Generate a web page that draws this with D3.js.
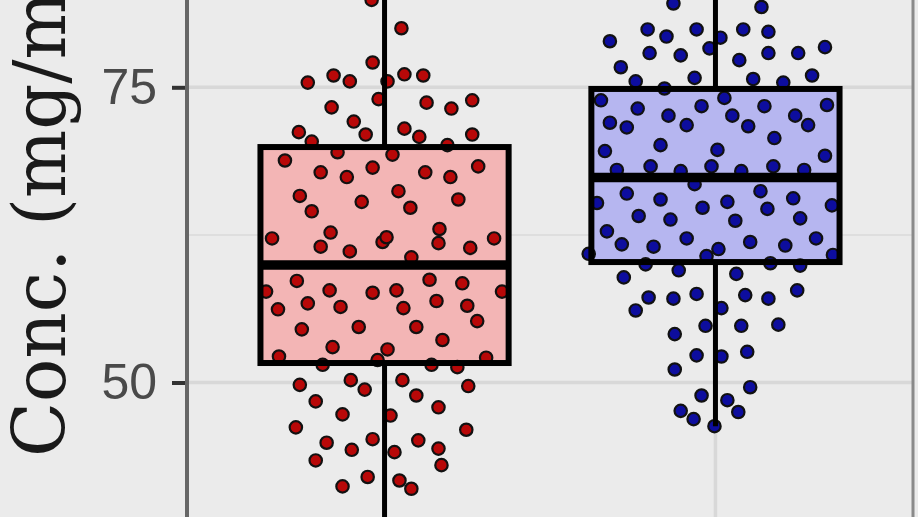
<!DOCTYPE html>
<html><head><meta charset="utf-8">
<script src="https://cdn.jsdelivr.net/npm/d3@7"></script>
<style>html,body{margin:0;padding:0;background:#ebebeb;overflow:hidden}</style>
</head><body>
<svg id="c" width="918" height="517"></svg>
<script>
const categories = ["A", "B"];
const yTicks = [50, 75];
const yMinorTicks = [37.5, 62.5, 87.5];
const boxLower = [51.65, 60.2];
const boxMedian = [59.95, 67.36];
const boxUpper = [69.94, 74.86];
const whiskerLow = [37.0, 46.3];
const whiskerHigh = [85.0, 85.0];
const yLabel = "Conc. (mg/m³)";

const redValues = [82.4,80.0,77.1,75.4,76.0,75.5,75.5,76.1,76.0,73.3,74.0,72.1,73.7,73.2,73.9,71.2,70.4,71.0,71.5,70.8,71.0,69.5,70.1,68.8,69.3,67.8,67.4,68.2,67.8,67.4,68.3,65.8,64.5,65.3,66.2,64.8,65.5,62.2,62.7,61.5,61.9,62.3,63.0,61.8,61.4,62.2,61.1,60.6,58.6,57.8,57.6,57.8,58.7,58.4,57.7,57.7,56.2,56.7,56.4,56.3,56.9,56.5,55.2,54.5,54.7,54.7,53.0,52.8,53.6,52.2,52.1,51.5,51.9,51.5,51.3,49.8,50.2,49.4,50.2,48.9,49.7,48.4,47.9,47.3,47.2,46.2,46.0,44.9,45.2,45.1,44.4,44.3,44.1,43.4,43.0,42.0,41.7,41.0,41.2];
const redJitter = [-0.039,0.051,-0.036,-0.232,-0.154,-0.105,0.009,0.060,0.117,-0.160,-0.018,-0.093,0.127,0.202,0.265,-0.259,-0.220,-0.057,0.060,0.105,0.265,-0.142,0.190,-0.301,0.024,-0.193,-0.114,-0.036,0.123,0.199,0.283,-0.256,-0.220,-0.069,0.042,0.078,0.223,-0.340,-0.163,-0.193,-0.006,0.006,0.166,0.163,0.259,0.331,-0.105,0.081,-0.265,-0.166,-0.036,0.036,0.136,0.235,-0.358,0.355,-0.322,-0.232,-0.133,0.057,0.157,0.250,0.280,-0.250,-0.078,0.096,-0.157,0.009,0.175,-0.319,0.307,-0.187,-0.021,0.142,0.220,-0.256,-0.102,-0.060,0.054,0.096,0.253,-0.208,0.163,-0.127,0.018,-0.268,0.247,-0.175,-0.036,0.102,0.163,-0.099,0.030,-0.208,0.172,-0.051,0.045,0.081,-0.127];
const blueValues = [82.1,81.8,78.9,79.9,79.3,79.9,79.2,78.3,79.9,79.7,77.9,77.7,77.3,77.9,77.9,78.4,76.7,75.5,75.8,75.7,75.4,76.0,74.9,73.9,73.2,72.6,73.4,74.1,73.4,73.5,72.0,71.6,71.8,72.6,71.7,72.6,71.8,69.6,70.1,69.7,70.7,69.2,68.0,68.3,67.9,68.3,67.9,68.3,68.0,66.8,66.0,65.5,64.8,65.3,66.2,65.6,65.2,65.0,64.1,63.8,63.7,64.7,63.9,62.8,61.7,61.5,62.2,61.3,61.9,61.6,62.2,60.9,60.0,59.5,59.2,59.9,60.1,60.7,58.9,57.2,57.1,57.5,57.4,57.1,57.8,56.1,56.3,54.8,54.8,54.9,54.1,52.3,52.2,52.6,51.1,49.6,48.9,48.5,47.6,46.9,47.5,46.3,60.8];
const blueJitter = [-0.127,0.139,-0.319,-0.205,-0.148,-0.057,0.015,-0.018,0.084,0.160,-0.199,-0.105,0.072,0.160,0.250,0.331,-0.286,-0.241,-0.063,0.114,0.205,0.292,-0.154,-0.346,-0.235,-0.142,-0.042,0.027,0.148,0.337,-0.319,-0.268,-0.087,0.051,0.099,0.241,0.280,-0.334,-0.166,0.006,0.178,0.331,-0.298,-0.196,-0.105,-0.012,0.078,0.175,0.268,-0.063,-0.268,-0.166,-0.039,0.036,0.136,0.235,-0.358,0.352,-0.232,-0.136,0.060,0.157,0.256,-0.328,-0.283,-0.187,-0.087,0.009,0.105,0.211,0.304,-0.383,-0.211,-0.111,0.063,0.256,0.166,-0.027,-0.277,-0.202,-0.127,-0.057,0.090,0.160,0.247,-0.241,0.018,-0.030,0.078,0.190,-0.123,-0.057,0.018,0.096,-0.123,0.105,-0.042,0.036,-0.105,-0.066,0.069,-0.003,0.355];

const boxFills = ["#f3b5b5", "#b6b6f0"];
const pointFills = ["#b80808", "#0d0d9e"];

const svg = d3.select("#c");
const W = 918, H = 517;
const x = d3.scalePoint().domain(categories).range([186, 914]).padding(0.6);
const y = d3.scaleLinear().domain([50, 75]).range([382.5, 87.3]);
const step = x.step();

svg.append("rect").attr("x", 0).attr("y", 0).attr("width", W).attr("height", H).attr("fill", "#ebebeb");

const grid = svg.append("g");
grid.selectAll("line.minor").data(yMinorTicks).join("line")
  .attr("x1", 187).attr("x2", 912).attr("y1", d => y(d)).attr("y2", d => y(d))
  .attr("stroke", "#dedede").attr("stroke-width", 2);
grid.selectAll("line.major").data(yTicks).join("line")
  .attr("x1", 187).attr("x2", 912).attr("y1", d => y(d)).attr("y2", d => y(d))
  .attr("stroke", "#d8d8d8").attr("stroke-width", 3.5);
grid.selectAll("line.vert").data(categories).join("line")
  .attr("x1", d => x(d)).attr("x2", d => x(d)).attr("y1", 0).attr("y2", H)
  .attr("stroke", "#d8d8d8").attr("stroke-width", 3.5);

const bw = step * 0.75;
const boxes = categories.map((c, i) => ({c, i, lo: boxLower[i], med: boxMedian[i], hi: boxUpper[i], wl: whiskerLow[i], wh: whiskerHigh[i]}));

svg.append("g").selectAll("rect").data(boxes).join("rect")
  .attr("x", d => x(d.c) - bw / 2).attr("width", bw)
  .attr("y", d => y(d.hi)).attr("height", d => y(d.lo) - y(d.hi))
  .attr("fill", d => boxFills[d.i]);

const pts = [];
redValues.forEach((v, k) => pts.push({c: categories[0], i: 0, v, j: redJitter[k]}));
blueValues.forEach((v, k) => pts.push({c: categories[1], i: 1, v, j: blueJitter[k]}));
svg.append("g").selectAll("circle").data(pts).join("circle")
  .attr("cx", d => x(d.c) + d.j * step).attr("cy", d => y(d.v)).attr("r", 6.2)
  .attr("fill", d => pointFills[d.i]).attr("stroke", "#111").attr("stroke-width", 2.2);

const bl = svg.append("g");
bl.selectAll("line.wh").data(boxes).join("line")
  .attr("x1", d => x(d.c)).attr("x2", d => x(d.c)).attr("y1", d => y(d.wh)).attr("y2", d => y(d.hi))
  .attr("stroke", "#000").attr("stroke-width", 5);
bl.selectAll("line.wl").data(boxes).join("line")
  .attr("x1", d => x(d.c)).attr("x2", d => x(d.c)).attr("y1", d => y(d.lo)).attr("y2", d => y(d.wl))
  .attr("stroke", "#000").attr("stroke-width", 5);
bl.selectAll("rect").data(boxes).join("rect")
  .attr("x", d => x(d.c) - bw / 2).attr("width", bw)
  .attr("y", d => y(d.hi)).attr("height", d => y(d.lo) - y(d.hi))
  .attr("fill", "none").attr("stroke", "#000").attr("stroke-width", 6);
bl.selectAll("line.med").data(boxes).join("line")
  .attr("x1", d => x(d.c) - bw / 2).attr("x2", d => x(d.c) + bw / 2).attr("y1", d => y(d.med)).attr("y2", d => y(d.med))
  .attr("stroke", "#000").attr("stroke-width", 9.5);

// axis
const axisG = svg.append("g").attr("transform", "translate(187,0)");
const axis = d3.axisLeft(y).tickValues(yTicks).tickSize(15).tickPadding(15).tickFormat(d3.format("d"));
axisG.call(axis);
axisG.select(".domain").remove();
axisG.selectAll(".tick line").attr("stroke", "#333").attr("stroke-width", 4);
axisG.selectAll(".tick text").attr("fill", "#4a4a4a").style("font-family", "'Liberation Sans', Arial, sans-serif").style("font-size", "50px");
svg.append("line").attr("x1", 187).attr("x2", 187).attr("y1", 0).attr("y2", H).attr("stroke", "#666").attr("stroke-width", 4);
svg.append("line").attr("x1", 913).attr("x2", 913).attr("y1", 0).attr("y2", H).attr("stroke", "#8a8a8a").attr("stroke-width", 3);

svg.append("text").attr("transform", "translate(65,457) rotate(-90)")
  .attr("text-anchor", "start").attr("fill", "#1a1a1a")
  .style("font-family", "'DejaVu Serif', serif").style("font-size", "72px")
  .text(yLabel);
</script>
</body></html>
